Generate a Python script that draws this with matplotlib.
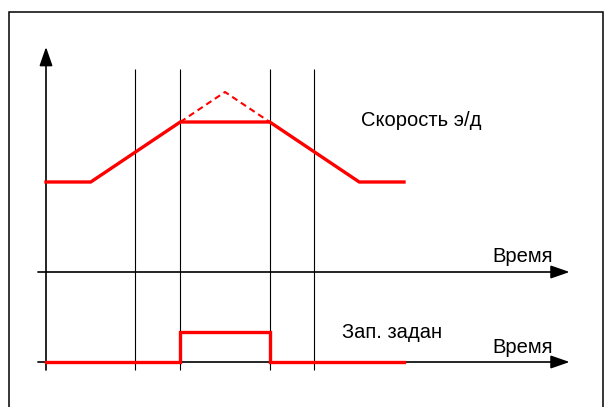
import matplotlib
matplotlib.use("Agg")
import matplotlib.pyplot as plt
from matplotlib.patches import Rectangle

plt.rcParams['font.family'] = ['Liberation Sans', 'DejaVu Sans']

# time knots (one unit = one phase of the diagram)
speed_t = [0, 1, 3, 5, 7, 8]
speed_v = [9, 9, 15, 15, 9, 9]
ideal_t = [3, 4, 5]
ideal_v = [15, 18, 15]
cmd_t = [0, 3, 3, 5, 5, 8]
cmd_v = [-9, -9, -6, -6, -9, -9]
marks_t = [2, 3, 5, 6]

speed_label = 'Скорость э/д'
cmd_label = 'Зап. задан'
time_label = 'Время'

fig = plt.figure(figsize=(6.04, 4.07), dpi=100)
ax = fig.add_axes([0, 0, 1, 1])
ax.set_xlim(-46 / 44.75, (604 - 46) / 44.75)
ax.set_ylim(-13.5, 27.2)
ax.axis('off')

# frame around the picture
fig.patches.append(Rectangle((9 / 604, -0.02), 594 / 604, (407 - 12) / 407 + 0.02,
                             transform=fig.transFigure, fill=False,
                             edgecolor='black', lw=1.1))

# phase markers
ax.vlines(marks_t, -9.8, 20.3, colors='black', lw=0.8)

# axes with arrows
arrow = dict(arrowstyle='-|>,head_length=1.15,head_width=0.4', mutation_scale=10,
             color='black', lw=1.2, shrinkA=0, shrinkB=0)
ax.annotate('', xy=(0, 22.5), xytext=(0, -9.8), arrowprops=arrow)
ax.annotate('', xy=(11.7, 0), xytext=(-0.18, 0), arrowprops=arrow)
ax.annotate('', xy=(11.7, -9), xytext=(-0.18, -9), arrowprops=arrow)

# signals
ax.plot(speed_t, speed_v, color='red', lw=2.4, solid_joinstyle='miter', zorder=5)
ax.plot(ideal_t, ideal_v, color='red', lw=1.5, ls=(0, (3, 2)), zorder=5)
ax.plot(cmd_t, cmd_v, color='red', lw=2.4, solid_joinstyle='miter', zorder=5)

fs = 14.5
ax.text(7.05, 14.55, speed_label, fontsize=fs, va='baseline', ha='left')
ax.text(9.97, 1.03, time_label, fontsize=fs, va='baseline', ha='left')
ax.text(6.62, -6.63, cmd_label, fontsize=fs, va='baseline', ha='left')
ax.text(9.97, -8.13, time_label, fontsize=fs, va='baseline', ha='left')

fig.savefig('out.png', dpi=100)
